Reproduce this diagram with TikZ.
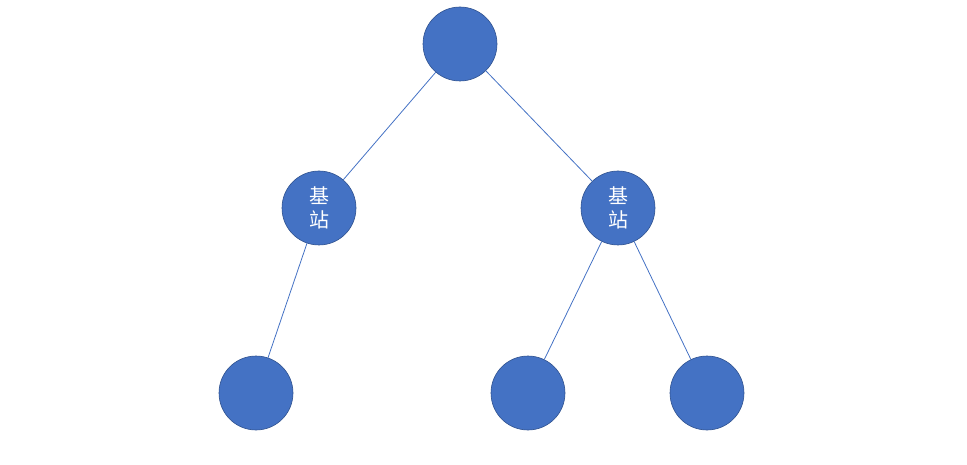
\documentclass[tikz,border=0pt]{standalone}
\usepackage{fontspec}
\newfontfamily\cjk{Noto Sans CJK SC}
\definecolor{nodeblue}{HTML}{4472C4}
\definecolor{edgeblue}{HTML}{2F528F}
\begin{document}
\begin{tikzpicture}[x=1pt,y=-1pt,
  nd/.style={circle,fill=nodeblue,draw=edgeblue,line width=0.6pt,minimum size=74pt,inner sep=0pt,text=white,font=\cjk\fontsize{20}{24}\selectfont,align=center},
  ln/.style={draw=nodeblue,line width=0.8pt}]
\useasboundingbox (0,0) rectangle (967,465);
\node[nd] (r) at (460,44) {};
\node[nd] (a) at (319,208) {基\\站};
\node[nd] (b) at (618,208) {基\\站};
\node[nd] (c) at (256,393) {};
\node[nd] (d) at (528,393) {};
\node[nd] (e) at (707,393) {};
\draw[ln] (r) -- (a);
\draw[ln] (r) -- (b);
\draw[ln] (a) -- (c);
\draw[ln] (b) -- (d);
\draw[ln] (b) -- (e);
\end{tikzpicture}
\end{document}
